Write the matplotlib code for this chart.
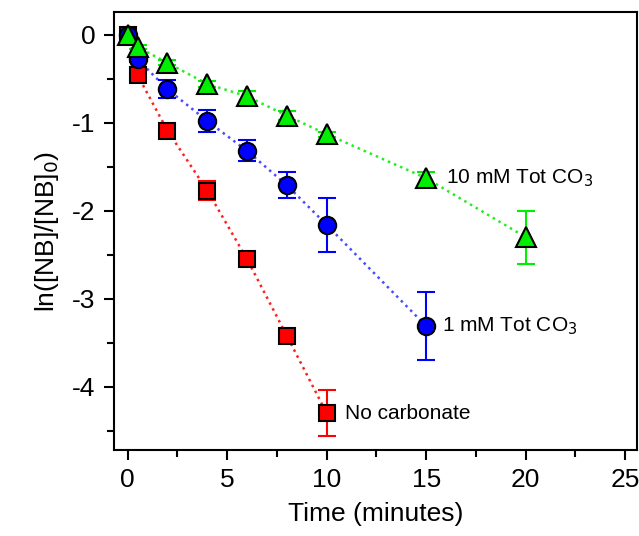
import matplotlib.pyplot as plt
from matplotlib.ticker import MultipleLocator

plt.rcParams['font.family'] = ['Liberation Sans', 'DejaVu Sans']
plt.rcParams['axes.unicode_minus'] = False

# No carbonate (red squares)
t_none = [0, 0.5, 2, 4, 6, 8, 10]
y_none = [0, -0.46, -1.09, -1.77, -2.55, -3.42, -4.30]
e_none = [0, 0.02, 0.04, 0.11, 0.04, 0.04, 0.26]

# 1 mM Tot CO3 (blue circles)
t_1mm = [0, 0.5, 2, 4, 6, 8, 10, 15]
y_1mm = [0, -0.28, -0.62, -0.98, -1.32, -1.71, -2.16, -3.31]
e_1mm = [0, 0.03, 0.10, 0.13, 0.12, 0.15, 0.31, 0.39]

# 10 mM Tot CO3 (green triangles)
t_10mm = [0, 0.5, 2, 4, 6, 8, 10, 15, 20]
y_10mm = [0, -0.14, -0.32, -0.56, -0.70, -0.92, -1.13, -1.63, -2.30]
e_10mm = [0, 0.02, 0.03, 0.03, 0.06, 0.05, 0.03, 0.07, 0.30]

fig = plt.figure(figsize=(6.39, 5.36), dpi=100)
ax = fig.add_axes([0.178, 0.160, 0.819, 0.818])

series = [
    (t_none, y_none, e_none, 's', '#ff0000', '#ff2020', 12),
    (t_1mm, y_1mm, e_1mm, 'o', '#0000ff', '#4a4aff', 12.5),
    (t_10mm, y_10mm, e_10mm, '^', '#00ee00', '#22ee22', 14),
]
z = 1
for t, y, e, m, c, lc, ms in series:
    ax.plot(t, y, ':', color=lc, lw=1.8, zorder=1)
    ax.errorbar(t, y, yerr=e, fmt='none', ecolor=c, elinewidth=1.5,
                capsize=6.5, capthick=1.5, zorder=2)
    ax.plot(t, y, m, mfc=c, mec='black', mew=1.5, ms=ms, ls='none', zorder=3 + z)
    z += 1

ax.text(16.0, -1.63, '10 mM Tot CO$_3$', fontsize=15, va='center')
ax.text(15.8, -3.31, '1 mM Tot CO$_3$', fontsize=15, va='center')
ax.text(10.9, -4.30, 'No carbonate', fontsize=15, va='center')

ax.set_xlim(-0.7, 25.6)
ax.set_ylim(-4.72, 0.26)
ax.xaxis.set_major_locator(MultipleLocator(5))
ax.xaxis.set_minor_locator(MultipleLocator(2.5))
ax.yaxis.set_major_locator(MultipleLocator(1))
ax.yaxis.set_minor_locator(MultipleLocator(0.5))
ax.tick_params(which='major', length=7, width=1.5, labelsize=19, pad=6)
ax.tick_params(which='minor', length=5, width=1.5)
for s in ax.spines.values():
    s.set_linewidth(1.5)

ax.set_xlabel('Time (minutes)', fontsize=19, labelpad=7)
ax.set_ylabel('ln([NB]/[NB]$_0$)', fontsize=19, labelpad=8)

fig.savefig('out.png', dpi=100)
